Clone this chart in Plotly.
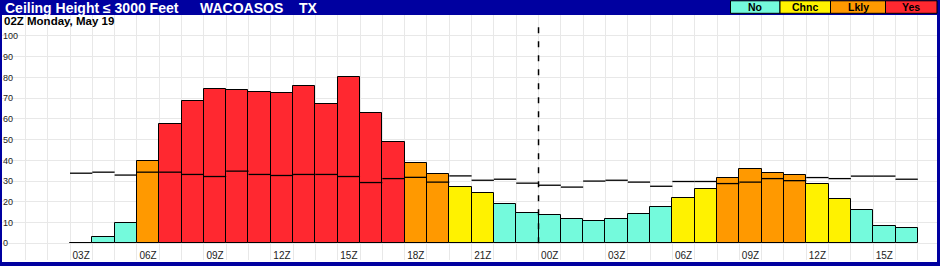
import plotly.graph_objects as go

# ---------------- data ----------------
hours = list(range(3, 41))  # hour offset from 00Z Monday (03Z Mon .. 16Z Tue)
values = [0, 3, 9.7, 39.6, 57.5, 68.6, 74.4, 73.9, 72.9, 72.5, 75.8, 67.1, 80.3,
          62.8, 48.8, 38.6, 33.3, 27.1, 24.2, 18.8, 14.5, 13.5, 11.6, 10.6, 11.6,
          14.0, 17.4, 21.7, 26.4, 31.7, 35.6, 33.8, 32.9, 28.5, 21.5, 15.9, 8.5, 7.5]
climo = [33.8, 34.3, 32.9, 34.3, 34.3, 33.2, 32.2, 34.8, 33.2, 32.7, 33.2, 33.2, 32.2,
         29.3, 31.2, 31.8, 29.5, 32.5, 30.4, 30.9, 29.0, 28.0, 27.1, 30.0, 30.4,
         29.5, 27.5, 29.8, 29.8, 28.8, 29.5, 31.2, 30.2, 31.7, 31.2, 32.4, 32.4, 30.9]
categories = ["No", "No", "No", "Lkly", "Yes", "Yes", "Yes", "Yes", "Yes", "Yes", "Yes",
              "Yes", "Yes", "Yes", "Yes", "Lkly", "Lkly", "Chnc", "Chnc", "No", "No",
              "No", "No", "No", "No", "No", "No", "Chnc", "Chnc", "Lkly", "Lkly", "Lkly",
              "Lkly", "Chnc", "Chnc", "No", "No", "No"]
legend_labels = ["No", "Chnc", "Lkly", "Yes"]
tick_hours = list(range(3, 40, 3))
tick_labels = [f"{h % 24:02d}Z" for h in tick_hours]
y_ticks = list(range(0, 101, 10))
title_parts = ["Ceiling Height \u2264 3000 Feet", "WACOASOS", "TX"]
subtitle = "02Z Monday, May 19"
day_break_hour = 24

# ---------------- styles ----------------
W, H = 940, 266
NAVY = "#0000A0"
cat_colors = {"No": "#74FADC", "Chnc": "#FFF200", "Lkly": "#FF9900", "Yes": "#FF2830"}
FONT = "Arial, Liberation Sans, sans-serif"
GRID = "#E8E8E8"

def px(x):
    return x / W

def py(y):
    return 1 - y / H

fig = go.Figure()

fig.add_trace(go.Bar(
    x=hours, y=values, width=1,
    marker=dict(color=[cat_colors[c] for c in categories],
                line=dict(color="black", width=1)),
    showlegend=False, hoverinfo="x+y",
))

seg_x, seg_y = [], []
for h, c in zip(hours, climo):
    seg_x += [h - 0.5, h + 0.5, None]
    seg_y += [c, c, None]
fig.add_trace(go.Scatter(x=seg_x, y=seg_y, mode="lines",
                         line=dict(color="black", width=1.3),
                         showlegend=False, hoverinfo="skip"))

yr = [-8.06, 110.1]
xr = [-0.548, 41.36]

fig.update_layout(
    width=W, height=H,
    margin=dict(l=0, r=0, t=0, b=0, autoexpand=False),
    paper_bgcolor="white", plot_bgcolor="white",
    bargap=0, showlegend=False,
    font=dict(family=FONT, color="#222"),
    xaxis=dict(domain=[px(2), px(937)], range=xr, showgrid=False, zeroline=False,
               tickmode="array", tickvals=tick_hours, ticktext=tick_labels,
               ticks="", ticklabelposition="inside", ticklabelstandoff=-4,
               tickfont=dict(size=10, color="#222"),
               minor=dict(tick0=0.5, dtick=1, showgrid=True, gridcolor=GRID, gridwidth=1, ticks=""),
               showline=False, fixedrange=True),
    yaxis=dict(domain=[1 - 260 / H, 1 - 15 / H], range=yr, tickmode="array", tickvals=y_ticks,
               showgrid=True, gridcolor=GRID, gridwidth=1, zeroline=False, ticks="",
               ticklabelposition="inside", ticklabelstandoff=-2, tickfont=dict(size=9, color="#222"),
               showline=False, fixedrange=True),
    yaxis2=dict(overlaying="y", side="right", range=yr, tickmode="array", tickvals=y_ticks,
                showgrid=False, zeroline=False, ticks="", ticklabelposition="inside",
                tickfont=dict(size=9, color="#222"), showline=False, fixedrange=True),
)

shapes = []
# day break
shapes.append(dict(type="line", xref="x", yref="y", x0=day_break_hour - 0.5, x1=day_break_hour - 0.5,
                   y0=0, y1=106, line=dict(color="black", width=1.5, dash="6px,8px")))
# header band
shapes.append(dict(type="rect", xref="paper", yref="paper", x0=0, x1=1, y0=py(15), y1=1,
                   fillcolor=NAVY, line=dict(width=0), layer="above"))
# frame borders
shapes.append(dict(type="rect", xref="paper", yref="paper", x0=0, x1=px(2), y0=0, y1=1,
                   fillcolor=NAVY, line=dict(width=0), layer="above"))
shapes.append(dict(type="rect", xref="paper", yref="paper", x0=px(937), x1=1, y0=0, y1=1,
                   fillcolor=NAVY, line=dict(width=0), layer="above"))
shapes.append(dict(type="rect", xref="paper", yref="paper", x0=0, x1=1, y0=0, y1=py(262),
                   fillcolor=NAVY, line=dict(width=0), layer="above"))

annotations = []
for txt, x0 in zip(title_parts, [4, 199, 298]):
    annotations.append(dict(text=f"<b>{txt}</b>", xref="paper", yref="paper", x=px(x0 - 1), y=py(7.5),
                            xanchor="left", yanchor="middle", showarrow=False,
                            font=dict(size=14, color="white", family=FONT)))
annotations.append(dict(text=f"<b>{subtitle}</b>", xref="paper", yref="paper", x=px(2), y=py(21),
                        xanchor="left", yanchor="middle", showarrow=False,
                        font=dict(size=11.5, color="black", family=FONT)))

box_edges = [730.5, 780, 830.5, 885.5, 937]
for i, lab in enumerate(legend_labels):
    x0, x1 = box_edges[i], box_edges[i + 1]
    shapes.append(dict(type="rect", xref="paper", yref="paper", x0=px(x0), x1=px(x1),
                       y0=py(13.3), y1=py(0.8), fillcolor=cat_colors[lab],
                       line=dict(color="black", width=1), layer="above"))
    annotations.append(dict(text=f"<b>{lab}</b>", xref="paper", yref="paper", x=px((x0 + x1) / 2),
                            y=py(7.3), xanchor="center", yanchor="middle", showarrow=False,
                            font=dict(size=10.5, color="black", family=FONT)))

fig.update_layout(shapes=shapes, annotations=annotations)
fig.write_html("out.html")
